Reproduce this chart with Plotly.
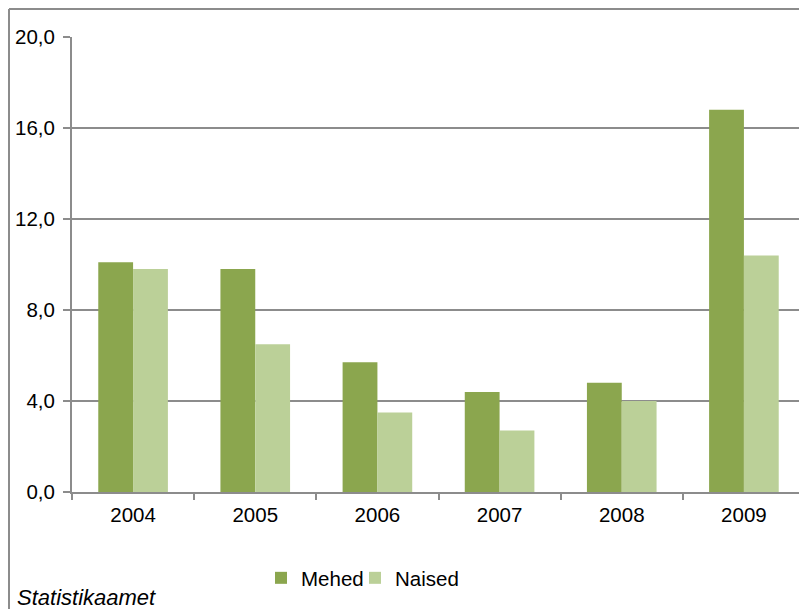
import plotly.graph_objects as go

years = ["2004", "2005", "2006", "2007", "2008", "2009"]
mehed = [10.1, 9.8, 5.7, 4.4, 4.8, 16.8]
naised = [9.8, 6.5, 3.5, 2.7, 4.0, 10.4]
ytickvals = [0, 4, 8, 12, 16, 20]
yticktext = ["0,0", "4,0", "8,0", "12,0", "16,0", "20,0"]

# page is offset by the default 8px body margin
OFF = 8
W, H = 799, 601
ml, mr, mt, mb = 64, 2, 29, 117
pw = W - ml - mr
ph = H - mt - mb
FS = 20.5

def px_x(x):
    return (x - OFF - ml) / pw

def px_y(y):
    return (H - mb - (y - OFF)) / ph

fig = go.Figure()
fig.add_trace(go.Bar(name="Mehed", x=years, y=mehed, legend="legend",
                     marker=dict(color="#8BA64E", line=dict(width=0))))
fig.add_trace(go.Bar(name="Naised", x=years, y=naised, legend="legend2",
                     marker=dict(color="#BBD098", line=dict(width=0))))

leg_common = dict(orientation="h", yanchor="middle", xanchor="left", font=dict(size=FS),
                  bgcolor="rgba(0,0,0,0)", tracegroupgap=0)

fig.update_layout(
    width=W, height=H,
    margin=dict(l=ml, r=mr, t=mt, b=mb),
    plot_bgcolor="white", paper_bgcolor="white",
    barmode="group", bargap=0.43, bargroupgap=0,
    font=dict(family="Liberation Sans, Arial, sans-serif", size=FS, color="#000000"),
    showlegend=True,
    legend=dict(x=px_x(261), y=px_y(578), **leg_common),
    legend2=dict(x=px_x(355), y=px_y(578), **leg_common),
    xaxis=dict(type="category", showline=True, linecolor="#8C8C8C", linewidth=2,
               ticks="outside", tickson="boundaries", ticklen=6, tickcolor="#8C8C8C", tickwidth=2,
               showgrid=False, tickfont=dict(size=FS), ticklabelstandoff=3),
    yaxis=dict(range=[0, 20], tickvals=ytickvals, ticktext=yticktext,
               showline=True, linecolor="#8C8C8C", linewidth=2,
               ticks="outside", ticklen=7, tickcolor="#8C8C8C", tickwidth=2,
               showgrid=True, gridcolor="#8C8C8C", gridwidth=2, zeroline=False,
               tickfont=dict(size=FS), ticklabelstandoff=4),
    shapes=[
        dict(type="line", xref="paper", yref="paper", x0=px_x(9), x1=px_x(W + 20), y0=px_y(9), y1=px_y(9),
             line=dict(color="#8C8C8C", width=2)),
        dict(type="line", xref="paper", yref="paper", x0=px_x(9), x1=px_x(9), y0=px_y(9), y1=px_y(H + 20),
             line=dict(color="#8C8C8C", width=2)),
    ],
    annotations=[
        dict(text="<i>Statistikaamet</i>", xref="paper", yref="paper", x=px_x(15), y=px_y(597),
             xanchor="left", yanchor="middle", showarrow=False, font=dict(size=22)),
    ],
)

fig.write_html("out.html")
